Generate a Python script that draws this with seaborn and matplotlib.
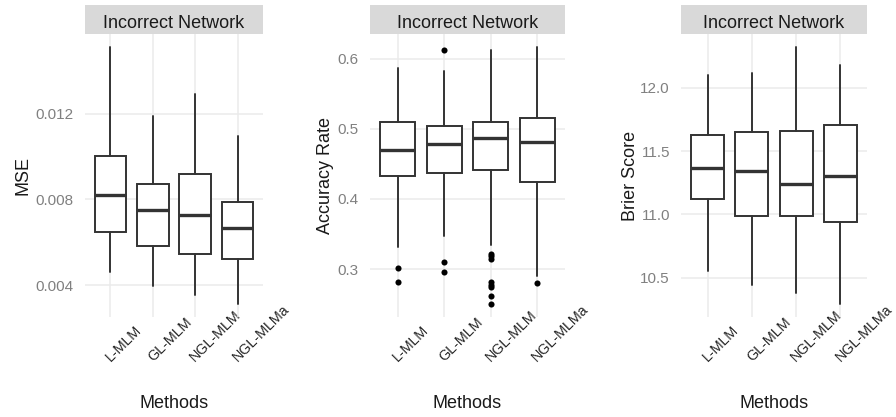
import matplotlib
matplotlib.use("Agg")
import matplotlib.pyplot as plt
from matplotlib.patches import Rectangle
import seaborn as sns
import numpy as np

methods = ["L-MLM", "GL-MLM", "NGL-MLM", "NGL-MLMa"]
strip_title = "Incorrect Network"
x_title = "Methods"
y_titles = ["MSE", "Accuracy Rate", "Brier Score"]

# MSE panel (five-number summaries)
mse_whislo = [0.00459, 0.00397, 0.00353, 0.00311]
mse_q1 = [0.00647, 0.00583, 0.00545, 0.00520]
mse_med = [0.00822, 0.00751, 0.00729, 0.00666]
mse_q3 = [0.01003, 0.00874, 0.00917, 0.00789]
mse_whishi = [0.01513, 0.01188, 0.01295, 0.01096]
mse_ticks = [0.004, 0.008, 0.012]
mse_ticklabels = ["0.004", "0.008", "0.012"]

# Accuracy panel
acc_whislo = [0.332, 0.347, 0.335, 0.2905]
acc_q1 = [0.4324, 0.4367, 0.4410, 0.4238]
acc_med = [0.4704, 0.4786, 0.4871, 0.4810]
acc_q3 = [0.5096, 0.5039, 0.5096, 0.5152]
acc_whishi = [0.5867, 0.5819, 0.6119, 0.6167]
acc_out_method = ["L-MLM", "L-MLM",
                  "GL-MLM", "GL-MLM", "GL-MLM",
                  "NGL-MLM", "NGL-MLM", "NGL-MLM", "NGL-MLM", "NGL-MLM",
                  "NGL-MLM", "NGL-MLM", "NGL-MLM",
                  "NGL-MLMa"]
acc_out_value = [0.3014, 0.2810,
                 0.6129, 0.3104, 0.2953,
                 0.3214, 0.3180, 0.3143, 0.2814, 0.2771,
                 0.2743, 0.2610, 0.2500,
                 0.2800]
acc_ticks = [0.3, 0.4, 0.5, 0.6]
acc_ticklabels = ["0.3", "0.4", "0.5", "0.6"]

# Brier score panel
bri_whislo = [10.555, 10.442, 10.379, 10.292]
bri_q1 = [11.123, 10.991, 10.991, 10.943]
bri_med = [11.369, 11.345, 11.240, 11.305]
bri_q3 = [11.624, 11.648, 11.659, 11.709]
bri_whishi = [12.105, 12.121, 12.324, 12.179]
bri_ticks = [10.5, 11.0, 11.5, 12.0]
bri_ticklabels = ["10.5", "11.0", "11.5", "12.0"]

sns.set_theme(style="whitegrid")
plt.rcParams["font.family"] = ["Liberation Sans", "DejaVu Sans"]

W, H = 896, 417
fig = plt.figure(figsize=(W / 100, H / 100), dpi=100)
fig.patch.set_facecolor("white")

panel_top, panel_bot = 34, 317
lefts = [85, 370, 681]
rights = [263, 565, 867]
ylabel_anchor = [31, 334, 639]

LINE = "#333333"
GRID = "#EBEBEB"


def make_panel(i, whislo, q1, med, q3, whishi, ticks, ticklabels, out_m=None, out_v=None):
    l, r = lefts[i], rights[i]
    ax = fig.add_axes([l / W, (H - panel_bot) / H, (r - l) / W, (panel_bot - panel_top) / H])
    ax.set_facecolor("white")
    stats = []
    for k in range(len(methods)):
        stats.append(dict(whislo=whislo[k], q1=q1[k], med=med[k], q3=q3[k],
                          whishi=whishi[k], fliers=[], label=methods[k]))
    ax.bxp(stats, positions=list(range(len(methods))), widths=0.75,
           showfliers=False, showcaps=False, patch_artist=True,
           boxprops=dict(facecolor="white", edgecolor=LINE, linewidth=1.4),
           whiskerprops=dict(color=LINE, linewidth=1.4),
           medianprops=dict(color=LINE, linewidth=2.4, solid_capstyle="butt"),
           zorder=2)
    vals = list(whislo) + list(whishi)
    if out_v:
        sns.stripplot(x=out_m, y=out_v, order=methods, jitter=False,
                      color="black", size=4.4, ax=ax, zorder=3)
        vals += list(out_v)
    lo, hi = min(vals), max(vals)
    pad = (hi - lo) * 0.05
    ax.set_ylim(lo - pad, hi + pad)
    ax.set_xlim(-0.6, len(methods) - 0.4)

    ax.set_yticks(ticks)
    ax.set_yticklabels(ticklabels)
    ax.set_xticks(list(range(len(methods))))
    ax.set_xticklabels(methods, rotation=45, rotation_mode="anchor",
                       ha="left", va="baseline")
    ax.tick_params(axis="both", length=0)
    ax.tick_params(axis="y", pad=8, labelsize=11, labelcolor="#808080")
    ax.tick_params(axis="x", pad=32.4, labelsize=10.4, labelcolor="#262626")

    ax.grid(True, color=GRID, linewidth=1.1)
    ax.xaxis.grid(True)
    ax.yaxis.grid(True)
    ax.set_axisbelow(True)
    for s in ax.spines.values():
        s.set_visible(False)

    ax.set_xlabel(x_title, fontsize=13, color="#1A1A1A")
    ax.xaxis.set_label_coords(0.5, (panel_bot - 395) / (panel_bot - panel_top))
    ax.set_ylabel(y_titles[i], fontsize=13, color="#1A1A1A")
    ax.yaxis.set_label_coords((ylabel_anchor[i] - l) / (r - l), 0.5)

    # facet strip
    sh = (panel_top - 5) / (panel_bot - panel_top)
    ax.add_patch(Rectangle((0, 1), 1, sh, transform=ax.transAxes,
                           facecolor="#D9D9D9", edgecolor="none", clip_on=False))
    ax.text(0.5, (panel_bot - 28) / (panel_bot - panel_top), strip_title,
            transform=ax.transAxes, ha="center", va="baseline",
            fontsize=13, color="#1A1A1A")
    return ax


make_panel(0, mse_whislo, mse_q1, mse_med, mse_q3, mse_whishi, mse_ticks, mse_ticklabels)
make_panel(1, acc_whislo, acc_q1, acc_med, acc_q3, acc_whishi, acc_ticks, acc_ticklabels,
           acc_out_method, acc_out_value)
make_panel(2, bri_whislo, bri_q1, bri_med, bri_q3, bri_whishi, bri_ticks, bri_ticklabels)

fig.savefig("out.png", dpi=100, facecolor="white")
